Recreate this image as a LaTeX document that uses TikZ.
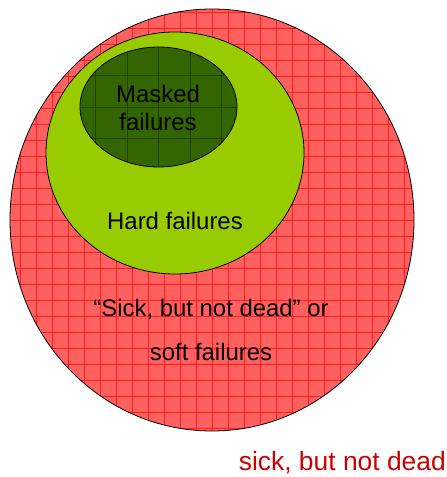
\documentclass[tikz,border=0pt]{standalone}
\usepackage{fontspec}
\setmainfont{Liberation Sans}
\usetikzlibrary{shapes.geometric}

\definecolor{sickfill}{RGB}{255,96,96}
\definecolor{sickgrid}{RGB}{255,30,30}
\definecolor{hardfill}{RGB}{153,204,0}
\definecolor{maskfill}{RGB}{51,102,0}
\definecolor{maskgrid}{RGB}{32,66,0}
\definecolor{labelred}{RGB}{204,0,0}

\tikzset{
  region/.style={ellipse, draw=black, line width=0.8bp, inner sep=0pt},
  gridfill/.style={path picture={
      \draw[#1, line width=0.4bp, step=16bp]
        (path picture bounding box.south west) grid (path picture bounding box.north east);}},
  txt/.style={font=\fontsize{24}{28}\selectfont, align=center, inner sep=0pt}
}

\begin{document}
\begin{tikzpicture}[x=1bp, y=-1bp]
                \useasboundingbox (0,0) rectangle (447,477);

                \node[region, fill=sickfill, gridfill=sickgrid, minimum width=404bp, minimum height=422bp] (sick) at (212,220) {};
                \node[region, fill=hardfill, minimum width=258bp, minimum height=242bp] (hard) at (175,153) {};
                \node[region, fill=maskfill, minimum width=157bp, minimum height=120bp,
                      path picture={\draw[maskgrid, line width=0.5bp, step=31.5bp]
                        (path picture bounding box.south west) grid (path picture bounding box.north east);}] (mask) at (158.5,107) {};

                \node[txt] (masktxt) at (158,108) {Masked\\failures};
                \node[txt] (hardtxt) at (175,221) {Hard failures};
                \node[txt, font=\fontsize{24}{44}\selectfont] (sicktxt) at (211,330) {“Sick, but not dead” or\\soft failures};
                \node[txt, font=\fontsize{26.5}{30}\selectfont, text=labelred, anchor=east] (sicklbl) at (446,463) {sick, but not dead};
            \end{tikzpicture}
\end{document}
